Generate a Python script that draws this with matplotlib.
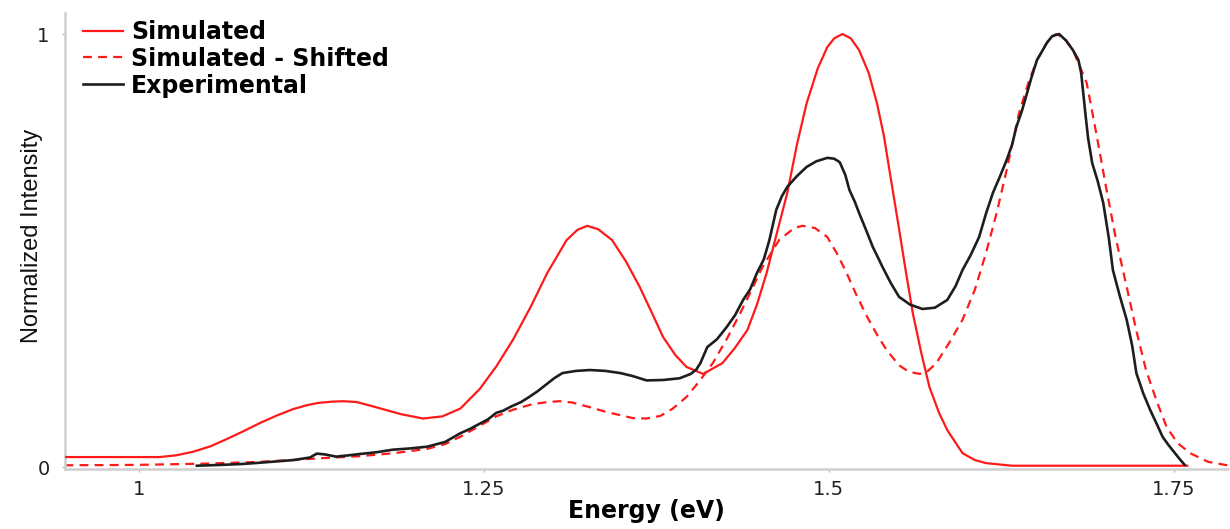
#!/usr/bin/env python3
"""
Normalized emission spectra: simulated, simulated (shifted) and experimental.
Produces: out.png
"""

import matplotlib as mpl
import matplotlib.pyplot as plt

mpl.rcParams.update({
    "font.family": "sans-serif",
    "font.sans-serif": ["DejaVu Sans"],
    "font.size": 13,
})

# --- data (energy in eV, normalized intensity) ---
sim_energy = [0.946, 0.98, 1.015, 1.027, 1.039, 1.052, 1.064, 1.076, 1.088, 1.10,
              1.112, 1.122, 1.13, 1.14, 1.148, 1.158, 1.172, 1.19, 1.206, 1.22,
              1.233, 1.247, 1.259, 1.271, 1.284, 1.296, 1.31, 1.318, 1.325, 1.333,
              1.343, 1.353, 1.363, 1.372, 1.38, 1.389, 1.397, 1.409, 1.423, 1.432,
              1.441, 1.448, 1.455, 1.462, 1.470, 1.477, 1.484, 1.492, 1.499, 1.504,
              1.510, 1.516, 1.522, 1.529, 1.535, 1.540, 1.544, 1.551, 1.556, 1.561,
              1.567, 1.573, 1.580, 1.586, 1.597, 1.606, 1.614, 1.633, 1.70, 1.76]
sim_int = [0.023, 0.023, 0.023, 0.027, 0.035, 0.048, 0.065, 0.083, 0.102, 0.119,
           0.134, 0.143, 0.148, 0.151, 0.152, 0.150, 0.138, 0.122, 0.112, 0.117,
           0.135, 0.18, 0.232, 0.293, 0.37, 0.448, 0.524, 0.548, 0.557, 0.549,
           0.524, 0.475, 0.416, 0.355, 0.30, 0.258, 0.231, 0.215, 0.24, 0.275,
           0.316, 0.375, 0.448, 0.535, 0.633, 0.745, 0.84, 0.92, 0.97, 0.99,
           1.0, 0.99, 0.963, 0.91, 0.84, 0.765, 0.686, 0.55, 0.45, 0.355,
           0.265, 0.185, 0.125, 0.085, 0.032, 0.016, 0.009, 0.003, 0.003, 0.003]

shift_energy = [0.946, 1.0, 1.05, 1.088, 1.13, 1.16, 1.185, 1.209, 1.222, 1.233,
                1.247, 1.259, 1.271, 1.285, 1.296, 1.305, 1.314, 1.327, 1.339, 1.358,
                1.368, 1.378, 1.387, 1.397, 1.406, 1.416, 1.426, 1.436, 1.444, 1.452,
                1.464, 1.475, 1.481, 1.49, 1.499, 1.506, 1.513, 1.52, 1.528, 1.535,
                1.542, 1.551, 1.558, 1.566, 1.572, 1.578, 1.587, 1.597, 1.606, 1.614,
                1.622, 1.629, 1.638, 1.645, 1.651, 1.660, 1.665, 1.671, 1.677, 1.687,
                1.694, 1.701, 1.708, 1.716, 1.723, 1.730, 1.738, 1.745, 1.753, 1.762,
                1.775, 1.789]
shift_int = [0.004, 0.005, 0.008, 0.012, 0.020, 0.025, 0.032, 0.042, 0.053, 0.07,
             0.095, 0.117, 0.132, 0.145, 0.150, 0.152, 0.149, 0.138, 0.127, 0.113,
             0.112, 0.118, 0.135, 0.162, 0.197, 0.24, 0.295, 0.356, 0.408, 0.462,
             0.524, 0.552, 0.557, 0.552, 0.531, 0.493, 0.448, 0.398, 0.346, 0.306,
             0.27, 0.235, 0.220, 0.215, 0.222, 0.24, 0.285, 0.34, 0.41, 0.494,
             0.59, 0.686, 0.818, 0.89, 0.94, 0.99, 1.0, 0.99, 0.963, 0.887,
             0.77, 0.647, 0.53, 0.416, 0.315, 0.224, 0.15, 0.092, 0.055, 0.032,
             0.012, 0.004]

exp_energy = [1.042, 1.06, 1.075, 1.088, 1.10, 1.112, 1.124, 1.129, 1.135, 1.143,
              1.152, 1.16, 1.172, 1.184, 1.197, 1.209, 1.222, 1.233, 1.24, 1.247,
              1.253, 1.259, 1.264, 1.27, 1.277, 1.283, 1.289, 1.295, 1.301, 1.307,
              1.317, 1.327, 1.338, 1.349, 1.358, 1.368, 1.38, 1.392, 1.400, 1.404,
              1.407, 1.412, 1.419, 1.426, 1.432, 1.438, 1.443, 1.448, 1.453, 1.457,
              1.462, 1.466, 1.470, 1.477, 1.484, 1.491, 1.499, 1.504, 1.508, 1.512,
              1.515, 1.519, 1.522, 1.527, 1.532, 1.536, 1.539, 1.545, 1.551, 1.559,
              1.568, 1.577, 1.586, 1.592, 1.597, 1.603, 1.609, 1.614, 1.619, 1.624,
              1.629, 1.633, 1.636, 1.640, 1.643, 1.647, 1.651, 1.655, 1.658, 1.662,
              1.667, 1.672, 1.677, 1.681, 1.683, 1.686, 1.688, 1.691, 1.695, 1.699,
              1.703, 1.706, 1.711, 1.716, 1.720, 1.723, 1.728, 1.733, 1.738, 1.742,
              1.746, 1.749, 1.754, 1.758]
exp_int = [0.003, 0.005, 0.007, 0.010, 0.013, 0.016, 0.022, 0.031, 0.029, 0.024,
           0.027, 0.030, 0.034, 0.040, 0.043, 0.047, 0.058, 0.078, 0.088, 0.100,
           0.110, 0.125, 0.130, 0.140, 0.150, 0.162, 0.175, 0.190, 0.205, 0.217,
           0.222, 0.224, 0.222, 0.217, 0.210, 0.200, 0.201, 0.205, 0.215, 0.225,
           0.24, 0.277, 0.295, 0.323, 0.350, 0.386, 0.410, 0.448, 0.480, 0.524,
           0.594, 0.625, 0.647, 0.672, 0.693, 0.706, 0.714, 0.712, 0.704, 0.675,
           0.64, 0.612, 0.587, 0.548, 0.508, 0.482, 0.462, 0.425, 0.393, 0.375,
           0.365, 0.368, 0.386, 0.418, 0.455, 0.490, 0.531, 0.585, 0.633, 0.670,
           0.709, 0.745, 0.785, 0.822, 0.855, 0.900, 0.94, 0.962, 0.979, 0.995,
           1.0, 0.985, 0.963, 0.940, 0.91, 0.818, 0.760, 0.702, 0.660, 0.61,
           0.530, 0.455, 0.395, 0.34, 0.280, 0.217, 0.170, 0.132, 0.098, 0.07,
           0.052, 0.04, 0.020, 0.005]

labels = ["Simulated", "Simulated - Shifted", "Experimental"]

RED = "#ff1a1a"
BLACK = "#1e1e1e"
AXIS_GRAY = "#cfcfcf"


def main():
    fig = plt.figure(figsize=(12.3, 5.29), dpi=100)
    ax = fig.add_axes([0.0528, 0.1134, 0.9452, 0.862])

    ax.plot(sim_energy, sim_int, color=RED, lw=1.6, label=labels[0], zorder=3)
    ax.plot(shift_energy, shift_int, color=RED, lw=1.6, ls=(0, (4, 2.8)),
            label=labels[1], zorder=2)
    ax.plot(exp_energy, exp_int, color=BLACK, lw=1.9, label=labels[2], zorder=4)

    ax.set_xlim(0.9464, 1.7891)
    ax.set_ylim(-0.0046, 1.0485)
    ax.set_xticks([1, 1.25, 1.5, 1.75])
    ax.set_xticklabels(["1", "1.25", "1.5", "1.75"])
    ax.set_yticks([0, 1])
    ax.set_yticklabels(["0", "1"])

    for s in ["top", "right"]:
        ax.spines[s].set_visible(False)
    for s in ["left", "bottom"]:
        ax.spines[s].set_color(AXIS_GRAY)
        ax.spines[s].set_linewidth(1.8)
    ax.tick_params(axis="both", length=2, width=1, color="#bbbbbb",
                   labelsize=14, labelcolor="#222222")
    ax.tick_params(axis="x", pad=6)
    ax.tick_params(axis="y", pad=9)

    ax.set_xlabel("Energy (eV)", fontsize=17, fontweight="bold", labelpad=0)
    fig.text(0.026, 0.555, "Normalized Intensity", rotation=90,
             ha="center", va="center", fontsize=17,
             family=["Liberation Sans Narrow", "Liberation Sans"],
             color="#111111")

    leg = ax.legend(loc="upper left", bbox_to_anchor=(0.0155, 0.985),
                    frameon=False, fontsize=17, handlelength=1.7,
                    handletextpad=0.35, labelspacing=0.12, borderpad=0,
                    borderaxespad=0)
    for t in leg.get_texts():
        t.set_fontweight("bold")

    fig.savefig("out.png", dpi=100)


if __name__ == "__main__":
    main()
